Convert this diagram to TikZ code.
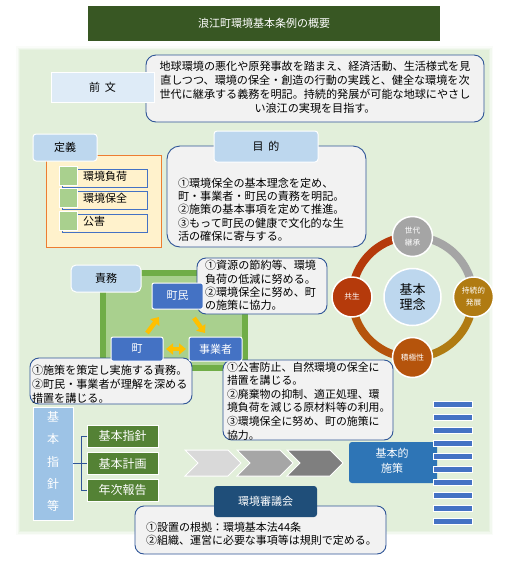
\documentclass[tikz,border=0pt]{standalone}
\usepackage{fontspec}
\setmainfont{Noto Sans CJK JP}
\usetikzlibrary{arrows.meta,calc}
\newcommand\fs[2]{\fontsize{#1}{#2}\selectfont}
\definecolor{titlegreen}{HTML}{385723}
\definecolor{bggreen}{HTML}{E2EFDA}
\definecolor{boxgray}{HTML}{F2F2F2}
\definecolor{boxblue}{HTML}{2F5597}
\definecolor{lightblue}{HTML}{DEEBF7}
\definecolor{tabblue}{HTML}{BDD7EE}
\definecolor{orng}{HTML}{ED7D31}
\definecolor{cream}{HTML}{FFF2CC}
\definecolor{itemblue}{HTML}{4472C4}
\definecolor{sqgreen}{HTML}{A9D08E}
\definecolor{framegreen}{HTML}{70AD47}
\definecolor{partyblue}{HTML}{4472C4}
\definecolor{yel}{HTML}{FFC000}
\definecolor{kihonblue}{HTML}{9DC3E6}
\definecolor{gboxgreen}{HTML}{548235}
\definecolor{chevA}{HTML}{D9D9D9}
\definecolor{chevB}{HTML}{A6A6A6}
\definecolor{chevC}{HTML}{7F7F7F}
\definecolor{shisakublue}{HTML}{2E75B6}
\definecolor{darkblue}{HTML}{1F4E79}
\definecolor{cgray}{HTML}{A5A5A5}
\definecolor{cgold}{HTML}{B07B12}
\definecolor{cbrown}{HTML}{B5540C}
\definecolor{cred}{HTML}{B53A0B}
\begin{document}
\begin{tikzpicture}[x=1pt,y=-1pt,
  every node/.style={inner sep=0pt, outer sep=0pt},
  rbox/.style={draw=boxblue, fill=boxgray, line width=0.9pt, rounded corners=9pt},
  tab/.style={draw=white, fill=tabblue, line width=1pt, rounded corners=3pt, font=\fs{11}{14}},
  party/.style={fill=partyblue, draw=white, line width=1pt, rounded corners=2pt, text=white, font=\fs{11}{14}},
  txt/.style={anchor=west, align=left},
  yarrow/.style={draw=yel, line width=4.5pt, -{Triangle[width=11pt,length=7pt]}},
  ydarrow/.style={draw=yel, line width=4.5pt, {Triangle[width=11pt,length=7pt]}-{Triangle[width=11pt,length=7pt]}},
  smallc/.style={circle, draw=white, line width=1.5pt, minimum size=40, text=white, align=center, font=\fs{7.7}{12}},
  ring/.style={line width=8pt},
  gbox/.style={fill=gboxgreen, draw=white, line width=1pt, minimum width=71, minimum height=22, text=white, font=\fs{12}{14}},
  bracket/.style={draw=boxblue, line width=0.9pt},
  stripe/.style={fill=partyblue, draw=white, line width=0.8pt, minimum width=39, minimum height=6}
]
\useasboundingbox (0,0) rectangle (514,563);
\fill[white] (0,0) rectangle (514,563);
% background
\foreach \d/\o in {4/0.15, 2.5/0.3, 1.2/0.5}
  \fill[bggreen, opacity=\o] (20-\d,50-\d) rectangle (489+\d,531+\d);
\fill[bggreen] (20,50) rectangle (489,531);

% title
\node[fill=titlegreen, minimum width=352, minimum height=35, text=white, font=\fs{11}{14}] (title) at (264,23.5) {浪江町環境基本条例の概要};

% preamble
\node[rbox, rounded corners=10pt, minimum width=338, minimum height=67] (prebox) at (315,88.5) {};
\node[align=center, font=\fs{11.1}{14}] (pretxt) at (315,87.5) {地球環境の悪化や原発事故を踏まえ、経済活動、生活様式を見\\直しつつ、環境の保全・創造の行動の実践と、健全な環境を次\\世代に継承する義務を明記。持続的発展が可能な地球にやさし\\い浪江の実現を目指す。};
\node[fill=lightblue, draw=white, line width=1pt, minimum width=103, minimum height=30, font=\fs{11}{14}] (zenbun) at (102.5,87) {前\hspace{5pt}文};

% definitions
\node[draw=orng, fill=cream, line width=1pt, minimum width=115, minimum height=92] (defbox) at (103.5,201) {};
\foreach \i/\y/\t in {1/178/環境負荷, 2/200/環境保全, 3/223/公害} {
  \node[draw=itemblue, fill=cream, line width=0.9pt, minimum width=85, minimum height=18] (item\i) at (104.5,\y) {};
  \node[fill=sqgreen, draw=white, line width=1pt, minimum width=18, minimum height=19] (sq\i) at (68,\y-2.5) {};
  \node[txt, font=\fs{11}{14}] (itemtxt\i) at (83,\y-1.5) {\t};
}
\node[tab, minimum width=64, minimum height=27] (teigi) at (65,147.5) {定義};

% purpose
\node[rbox, rounded corners=13pt, minimum width=199, minimum height=101] (purpbox) at (266.5,196.5) {};
\node[tab, minimum width=104, minimum height=31] (purptab) at (266,146.5) {目\hspace{5pt}的};
\node[txt, font=\fs{11.1}{13.3}] (purptxt) at (178,209.5) {①環境保全の基本理念を定め、\\町・事業者・町民の責務を明記。\\②施策の基本事項を定めて推進。\\③もって町民の健康で文化的な生\\活の確保に寄与する。};

% cycle of basic principles
\draw[ring, cgray] plot[domain=270:360, samples=40, variable=\t] ({412.5+60.5*cos(\t)}, {297+60.5*sin(\t)});
\draw[ring, cgold] plot[domain=0:90, samples=40, variable=\t] ({412.5+60.5*cos(\t)}, {297+60.5*sin(\t)});
\draw[ring, cbrown] plot[domain=90:180, samples=40, variable=\t] ({412.5+60.5*cos(\t)}, {297+60.5*sin(\t)});
\draw[ring, cred] plot[domain=180:270, samples=40, variable=\t] ({412.5+60.5*cos(\t)}, {297+60.5*sin(\t)});
\node[circle, fill=tabblue, draw=white, line width=1.5pt, minimum size=57, align=center, font=\fs{13}{15}] (rinen) at (412.5,297) {基本\\理念};
\node[smallc, fill=cgray] (sedai) at (412.5,236.5) {世代\\継承};
\node[smallc, fill=cgold] (jizoku) at (473.5,297) {持続的\\発展};
\node[smallc, fill=cbrown] (sekkyoku) at (412.5,357.5) {積極性};
\node[smallc, fill=cred] (kyosei) at (352,297) {共生};

% duties
\node[draw=framegreen, fill=sqgreen, line width=6pt, minimum width=142, minimum height=95] (dutyframe) at (174,320.5) {};
\node[tab, rounded corners=5pt, minimum width=70, minimum height=27] (sekimu) at (106,278.5) {責務};

\node[rbox, minimum width=130, minimum height=56] (chominbox) at (262,286) {};
\node[txt, font=\fs{11.1}{13.4}] (chomintxt) at (205,285.5) {①資源の節約等、環境\\負荷の低減に努める。\\②環境保全に努め、町\\の施策に協力。};

\node[rbox, minimum width=162, minimum height=46] (chobox) at (111,381) {};
\node[txt, font=\fs{11.1}{14}] (chotxt) at (32,384) {①施策を策定し実施する責務。\\②町民・事業者が理解を深める\\措置を講じる。};

\node[rbox, minimum width=170, minimum height=80] (jigyobox) at (308,400) {};
\node[txt, font=\fs{10.9}{13.6}] (jigyotxt) at (227,401) {①公害防止、自然環境の保全に\\措置を講じる。\\②廃棄物の抑制、適正処理、環\\境負荷を減じる原材料等の利用。\\③環境保全に努め、町の施策に\\協力。};

\node[party, minimum width=51, minimum height=26] (chomin) at (177.5,296) {町民};
\node[party, minimum width=52, minimum height=24] (cho) at (137,349) {町};
\node[party, minimum width=53, minimum height=24] (jigyo) at (215.5,349) {事業者};

\draw[yarrow] ($(cho.north east)+(-16,-4)$) -- ($(chomin.south west)+(7,8)$);
\draw[yarrow] ($(chomin.south east)+(-9,9)$) -- ($(jigyo.north)+(-10.5,-4)$);
\draw[ydarrow, shorten <=3pt, shorten >=3pt] (cho.east) -- (jigyo.west);

% basic guidelines
\node[fill=kihonblue, draw=white, line width=1pt, minimum width=40, minimum height=113] (kihonshishin) at (53,463.5) {};
\node[align=center, text=white, font=\fs{12}{22.2}] (kihontxt) at (53,461.5) {基\\本\\指\\針\\等};
\node[gbox] (g1) at (122.5,436) {基本指針};
\node[gbox] (g2) at (122.5,463.5) {基本計画};
\node[gbox] (g3) at (122.5,490) {年次報告};
\draw[bracket] (kihonshishin.east) -- (g2.west);
\draw[bracket] (g1.west) -- ++(-6,0) |- (g3.west);

% chevrons
\foreach \x/\c in {185/chevA, 237/chevB, 287/chevC}
  \filldraw[fill=\c, draw=white, line width=1pt] (\x,450) -- (\x+43,450) -- (\x+56,463) -- (\x+43,476) -- (\x,476) -- (\x+13,463) -- cycle;

% basic measures
\node[fill=shisakublue, rounded corners=3pt, minimum width=88, minimum height=41] (shisaku) at (393,462.5) {};
\node[align=center, text=white, font=\fs{11}{15}] (shisakutxt) at (392,461) {基本的\\施策};
\foreach \k in {0,...,9}
  \node[stripe] (stripe\k) at (453,404+13*\k) {};

% council
\node[rbox, minimum width=251, minimum height=48] (shingibox) at (260.5,530) {};
\node[txt, font=\fs{11}{13}] (shingitxt) at (146,533.5) {①設置の根拠：環境基本法44条\\②組織、運営に必要な事項等は規則で定める。};
\node[fill=darkblue, rounded corners=3pt, minimum width=103, minimum height=31, text=white, font=\fs{11}{14}] (shingi) at (265.5,501.5) {環境審議会};
\end{tikzpicture}
\end{document}
